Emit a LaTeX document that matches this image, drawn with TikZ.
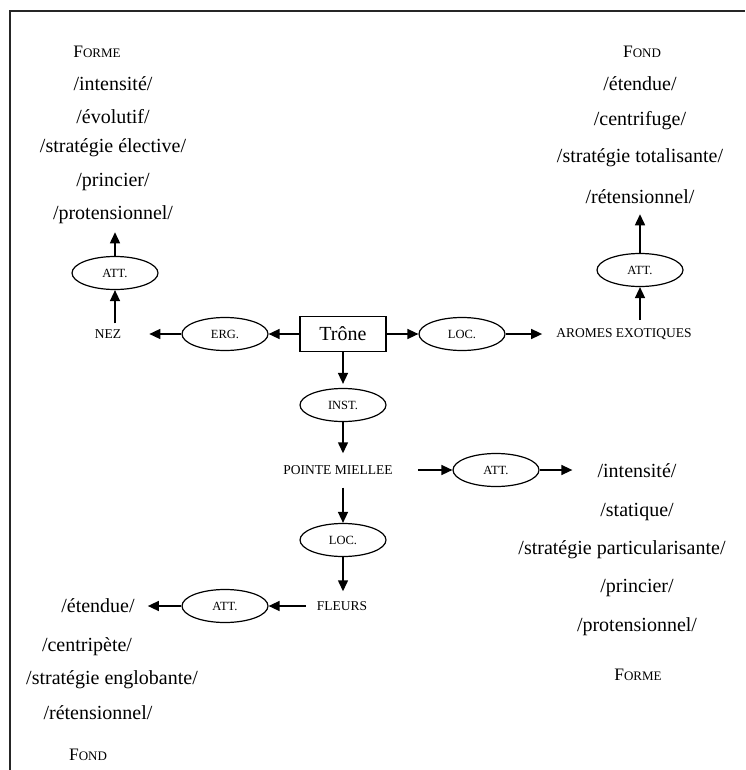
\documentclass[tikz,border=0pt]{standalone}
\usepackage{fontspec}
\setmainfont{Liberation Serif}
\usetikzlibrary{arrows.meta,shapes.geometric}

% small-capital headings: large initial, reduced capitals after it
\newcommand{\smallcapword}[2]{#1{\fontsize{13}{15}\selectfont #2}}

\tikzset{
  body/.style={font=\fontsize{20}{23}\selectfont, inner sep=0pt},
  head/.style={font=\fontsize{17.5}{20}\selectfont, inner sep=0pt},
  tag/.style={font=\fontsize{13.5}{16}\selectfont, inner sep=0pt},
  rel/.style={ellipse, draw, line width=1.2pt, minimum width=86pt,
              minimum height=33pt, inner sep=0pt,
              font=\fontsize{12.5}{14}\selectfont},
  term/.style={rectangle, draw, line width=1.2pt, minimum width=86pt,
               minimum height=35pt, inner sep=0pt,
               font=\fontsize{20}{23}\selectfont},
  arr/.style={line width=1.5pt, -{Triangle[length=11pt,width=10pt]}},
  frameline/.style={line width=1.8pt, black!85}
}

\begin{document}
\begin{tikzpicture}[x=1pt,y=-1pt]
  \useasboundingbox (0,0) rectangle (745,770);

  % outer frame (top and left edges)
  \draw[frameline] (10,770) -- (10,11) -- (745,11);

  % central chain
  \node[term] (trone) at (343,334) {Trône};
  \node[rel] (erg) at (225,334) {ERG.};
  \node[tag] (nez) at (108,334) {NEZ};
  \node[rel] (loc1) at (462,334) {LOC.};
  \node[tag] (aromes) at (624,334) {AROMES EXOTIQUES};
  \node[rel] (inst) at (343,405) {INST.};
  \node[tag] (pointe) at (338,470) {POINTE MIELLEE};
  \node[rel] (att3) at (496,470) {ATT.};
  \node[rel] (loc2) at (343,540) {LOC.};
  \node[tag] (fleurs) at (342,606) {FLEURS};
  \node[rel] (att4) at (225,606) {ATT.};
  \node[rel] (att1) at (115,273) {ATT.};
  \node[rel] (att2) at (640,270) {ATT.};

  % upper left: Forme
  \node[head] (formeA) at (97,52) {\smallcapword{F}{ORME}};
  \node[body] (la) at (113,84) {/intensité/};
  \node[body] (lb) at (113,117) {/évolutif/};
  \node[body] (lc) at (113,148) {/stratégie élective/};
  \node[body] (ld) at (113,182) {/princier/};
  \node[body] (le) at (113,215) {/protensionnel/};

  % upper right: Fond
  \node[head] (fondA) at (642,52) {\smallcapword{F}{OND}};
  \node[body] (ra) at (640,84) {/étendue/};
  \node[body] (rb) at (640,121) {/centrifuge/};
  \node[body] (rc) at (640,158) {/stratégie totalisante/};
  \node[body] (rd) at (640,197) {/rétensionnel/};

  % middle right: Forme
  \node[body] (ma) at (637,471) {/intensité/};
  \node[body] (mb) at (637,512) {/statique/};
  \node[body] (mc) at (622,550) {/stratégie particularisante/};
  \node[body] (md) at (637,588) {/princier/};
  \node[body] (me) at (637,627) {/protensionnel/};
  \node[head] (formeB) at (638,675) {\smallcapword{F}{ORME}};

  % lower left: Fond
  \node[body] (ba) at (98,606) {/étendue/};
  \node[body] (bb) at (87,647) {/centripète/};
  \node[body] (bc) at (112,680) {/stratégie englobante/};
  \node[body] (bd) at (98,713) {/rétensionnel/};
  \node[head] (fondB) at (88,755) {\smallcapword{F}{OND}};

  % connectors
  \draw[arr] (trone) -- (erg);
  \draw[arr, shorten >=28pt] (erg) -- (nez);
  \draw[arr, shorten <=6pt] (att1.south |- nez.north) -- (att1.south);
  \draw[arr, shorten >=8pt] (att1.north) -- (att1.north |- le.south);

  \draw[arr] (trone) -- (loc1);
  \draw[arr, shorten >=14pt] (loc1) -- (aromes);
  \draw[arr, shorten <=8pt] (att2.south |- aromes.north) -- (att2.south);
  \draw[arr, shorten >=10pt] (att2.north) -- (att2.north |- rd.south);

  \draw[arr, shorten >=4pt] (trone.south -| inst.south) -- (inst.north);
  \draw[arr, shorten >=12pt] (inst.south) -- (inst.south |- pointe.north);
  \draw[arr, shorten <=25pt] (pointe.east) -- (att3);
  \draw[arr, shorten >=25pt] (att3) -- (att3 -| ma.west);
  \draw[arr, shorten <=13pt] (loc2.north |- pointe.south) -- (loc2.north);
  \draw[arr, shorten >=10pt] (loc2.south) -- (loc2.south |- fleurs.north);
  \draw[arr, shorten <=11pt] (fleurs.west) -- (att4);
  \draw[arr, shorten >=13pt] (att4) -- (att4 -| ba.east);
\end{tikzpicture}
\end{document}
